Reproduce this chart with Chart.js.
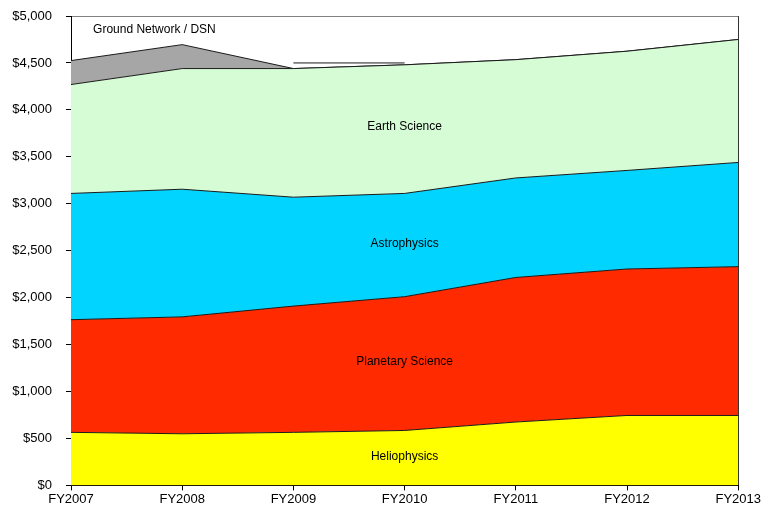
<!DOCTYPE html>
<html>
<head>
<meta charset="utf-8">
<script src="https://cdn.jsdelivr.net/npm/chart.js@4/dist/chart.umd.min.js"></script>
<style>
  html, body { margin: 0; padding: 0; background: #fff; }
  #wrap { width: 762px; height: 510px; }
</style>
</head>
<body>
<div id="wrap"><canvas id="budget-canvas"></canvas></div>
<script>
var years = ["FY2007", "FY2008", "FY2009", "FY2010", "FY2011", "FY2012", "FY2013"]
var heliophysics = [565, 550, 565, 585, 675, 745, 745]
var planetary = [1200, 1245, 1345, 1425, 1540, 1560, 1585]
var astrophysics = [1345, 1360, 1160, 1100, 1060, 1050, 1110]
var earthScience = [1160, 1285, 1370, 1370, 1260, 1270, 1310]
var groundNetwork = [255, 255, 0, 0, 0, 0, 0]
var dsnLine = [null, null, 4500, 4500, null, null, null]
var yTicks = [0, 500, 1000, 1500, 2000, 2500, 3000, 3500, 4000, 4500, 5000]

// area names written inside the chart: [text, category index, value]
var areaLabels = [
    ["Ground Network / DSN", 0.75, 4850],
    ["Earth Science", 3, 3825],
    ["Astrophysics", 3, 2580],
    ["Planetary Science", 3, 1320],
    ["Heliophysics", 3, 310]
]

var FONT = "'Liberation Sans', Arial, sans-serif"

var areaText = {
    id: 'areaText',
    afterDatasetsDraw: function(chart) {
        var c = chart.ctx
        var xs = chart.scales.x, ys = chart.scales.y
        c.save()
        c.font = "12px " + FONT
        c.fillStyle = "#000"
        c.textAlign = "center"
        c.textBaseline = "middle"
        areaLabels.forEach(function(l) {
            var i = Math.floor(l[1]), f = l[1] - i
            var x = xs.getPixelForValue(i)
            if (f) x = x + f * (xs.getPixelForValue(i + 1) - x)
            c.fillText(l[0], x, ys.getPixelForValue(l[2]))
        })
        c.restore()
    }
}

function area(label, data, color, fill) {
    return {
        label: label,
        data: data,
        backgroundColor: color,
        borderColor: '#1a1a1a',
        borderWidth: 1,
        fill: fill,
        pointRadius: 0,
        tension: 0,
        stack: 'budget'
    }
}

document.addEventListener("DOMContentLoaded", function() {
    var ctx = document.getElementById("budget-canvas").getContext('2d')
    new Chart(ctx, {
        type: 'line',
        data: {
            labels: years,
            datasets: [
                area("Heliophysics", heliophysics, '#FFFF00', 'origin'),
                area("Planetary Science", planetary, '#FF2A00', '-1'),
                area("Astrophysics", astrophysics, '#00D4FF', '-1'),
                area("Earth Science", earthScience, '#D5FCD5', '-1'),
                area("Ground Network / DSN", groundNetwork, '#A6A6A6', '-1'),
                {
                    label: "DSN",
                    data: dsnLine,
                    borderColor: '#1a1a1a',
                    borderWidth: 1,
                    fill: false,
                    pointRadius: 0,
                    stack: 'line'
                }
            ]
        },
        options: {
            responsive: true,
            maintainAspectRatio: false,
            animation: false,
            layout: { padding: { top: 0, left: 0, right: 0, bottom: 2 } },
            plugins: {
                legend: { display: false },
                tooltip: { enabled: false }
            },
            scales: {
                x: {
                    offset: false,
                    border: { color: '#000', width: 1 },
                    grid: {
                        color: function(c) { return c.index === years.length - 1 ? '#333' : 'rgba(0,0,0,0)' },
                        tickColor: '#000',
                        tickLength: 5
                    },
                    ticks: {
                        color: '#000',
                        font: { family: FONT, size: 13 },
                        maxRotation: 0,
                        padding: 1
                    }
                },
                y: {
                    stacked: true,
                    min: 0,
                    max: 5000,
                    border: { color: '#000', width: 1 },
                    afterBuildTicks: function(axis) {
                        axis.ticks = yTicks.map(function(v) { return { value: v } })
                    },
                    afterFit: function(axis) {
                        axis.width = 71
                        axis.paddingTop = 16
                        axis.paddingBottom = 8
                    },
                    grid: {
                        color: function(c) { return c.tick && c.tick.value === 5000 ? '#808080' : 'rgba(0,0,0,0)' },
                        tickColor: '#000',
                        tickLength: 5
                    },
                    ticks: {
                        color: '#000',
                        font: { family: FONT, size: 13 },
                        padding: 14,
                        callback: function(v) { return '$' + v.toLocaleString('en-US') }
                    }
                }
            }
        },
        plugins: [areaText]
    })
})
</script>
</body>
</html>
